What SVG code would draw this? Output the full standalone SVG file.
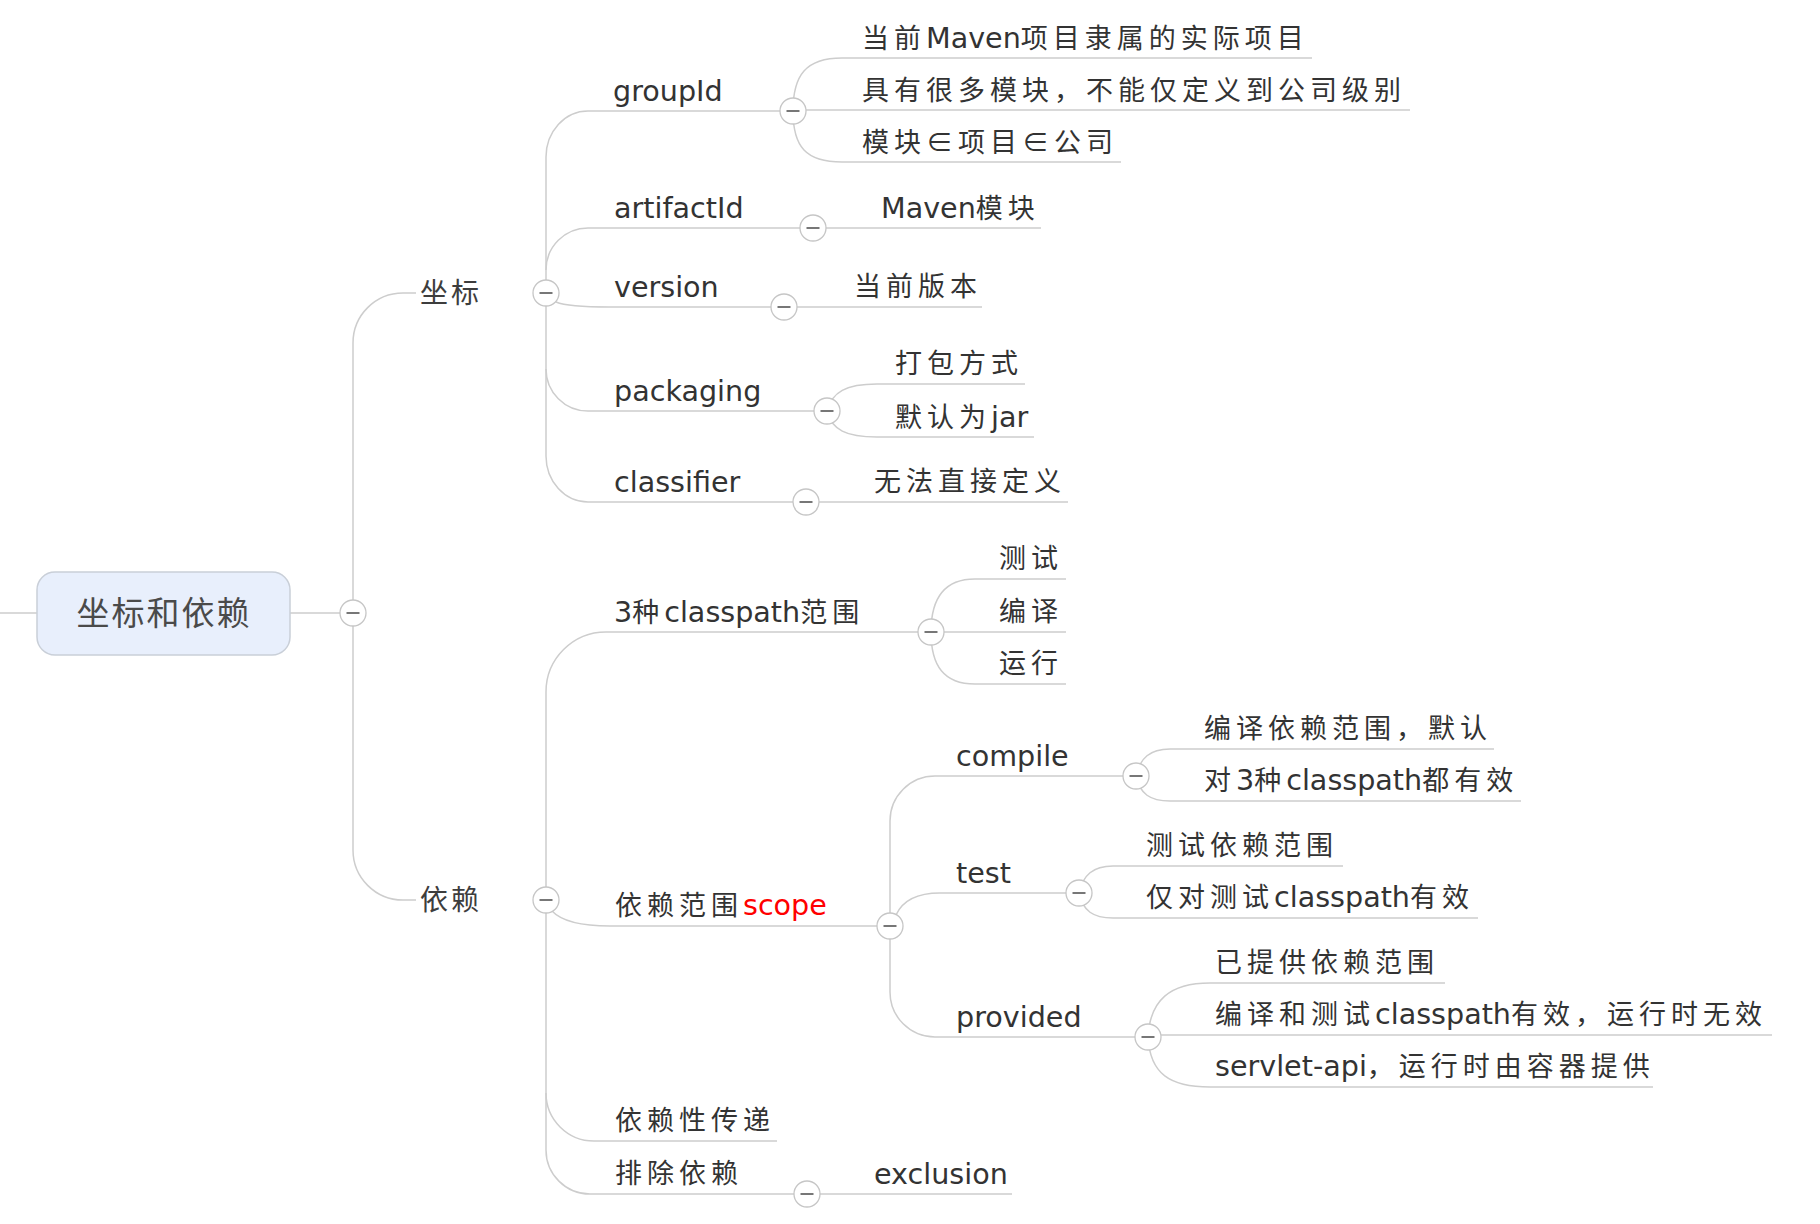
<svg xmlns="http://www.w3.org/2000/svg" xmlns:xlink="http://www.w3.org/1999/xlink" width="1820" height="1224" viewBox="0 0 1820 1224">
<style>
.ln{fill:none;stroke:#cdcdcd;stroke-width:1.5}
.t{font-family:"DejaVu Sans","Noto Sans CJK SC",sans-serif;font-size:27px;fill:#333;letter-spacing:5px}
.n{letter-spacing:0;font-size:28.6px}
.e{font-family:"Noto Sans CJK SC",sans-serif}
.t1{font-family:"Noto Sans CJK SC",sans-serif;font-size:28px;fill:#3d3d3d;letter-spacing:3px}
.root{font-family:"Noto Sans CJK SC",sans-serif;font-size:33px;fill:#4a4a4a;letter-spacing:2px}
.red{fill:#ff0000}
</style>
<defs>
<g id="tog"><circle r="13" fill="#fff" stroke="#c6c6c6" stroke-width="1.3"/><path d="M-6.5 0H6.5" stroke="#555" stroke-width="1.6"/></g>
</defs>
<rect width="1820" height="1224" fill="#fff"/>
<g id="connectors">
<path class="ln" d="M0 613H37M290 613H340"/>
<path class="ln" d="M353 600V343A50 50 0 0 1 403 293H416"/>
<path class="ln" d="M353 626V850A50 50 0 0 0 403 900H416"/>
<path class="ln" d="M780 111H588A42 46 0 0 0 546 157V456A42 46 0 0 0 588 502H793"/>
<path class="ln" d="M546 270A42 42 0 0 1 588 228H800"/>
<path class="ln" d="M556 302Q568 307 609 307H771"/>
<path class="ln" d="M546 369A42 42 0 0 0 588 411H814"/>
<path class="ln" d="M793 111C793 75 806 58 842 58H1312"/>
<path class="ln" d="M806 110H1410"/>
<path class="ln" d="M793 111C793 147 806 162 842 162H1121"/>
<path class="ln" d="M826 228H1041"/>
<path class="ln" d="M797 307H982"/>
<path class="ln" d="M827 411C832 392 846 384 877 384H1025"/>
<path class="ln" d="M827 411C832 430 846 437 877 437H1034"/>
<path class="ln" d="M819 502H1068"/>
<path class="ln" d="M918 632H606A60 60 0 0 0 546 692V1150A44 44 0 0 0 590 1194H794"/>
<path class="ln" d="M552 911Q566 926 610 926H877"/>
<path class="ln" d="M546 1093A48 48 0 0 0 594 1141H777"/>
<path class="ln" d="M820 1194H1012"/>
<path class="ln" d="M931 632C931 598 944 579 975 579H1066"/>
<path class="ln" d="M944 632H1066"/>
<path class="ln" d="M931 632C931 666 944 684 975 684H1066"/>
<path class="ln" d="M1123 776H935A45 45 0 0 0 890 821V992A45 45 0 0 0 935 1037H1135"/>
<path class="ln" d="M896 915Q906 893 940 893H1066"/>
<path class="ln" d="M1136 776C1140 758 1150 749 1170 749H1494"/>
<path class="ln" d="M1136 776C1140 794 1150 801 1170 801H1521"/>
<path class="ln" d="M1079 893C1083 875 1093 866 1113 866H1343"/>
<path class="ln" d="M1079 893C1083 911 1093 918 1113 918H1478"/>
<path class="ln" d="M1148 1037C1150 1000 1170 983 1210 983H1445"/>
<path class="ln" d="M1161 1035H1772"/>
<path class="ln" d="M1148 1037C1150 1074 1170 1087 1210 1087H1653"/>
</g>
<g id="node-root">
<rect x="37" y="572" width="253" height="83" rx="18" fill="#e8effc" stroke="#c9cfd8" stroke-width="1.5"/>
<text class="root" x="164" y="625" text-anchor="middle">坐标和依赖</text>
<use xlink:href="#tog" x="353" y="613"/>
</g>
<g id="node-zuobiao"><text class="t1" x="420" y="303">坐标</text><use xlink:href="#tog" x="546" y="293"/></g>
<g id="node-yilai"><text class="t1" x="420" y="910">依赖</text><use xlink:href="#tog" x="546" y="900"/></g>
<g id="node-groupId"><text class="t n" x="613" y="101">groupId</text><use xlink:href="#tog" x="793" y="111"/></g>
<g id="node-g1"><text class="t" x="862" y="48">当前<tspan class="n">Maven</tspan>项目隶属的实际项目</text></g>
<g id="node-g2"><text class="t" x="862" y="100">具有很多模块，不能仅定义到公司级别</text></g>
<g id="node-g3"><text class="t" x="862" y="152">模块<tspan class="e">∈</tspan>项目<tspan class="e">∈</tspan>公司</text></g>
<g id="node-artifactId"><text class="t n" x="614" y="218">artifactId</text><use xlink:href="#tog" x="813" y="228"/></g>
<g id="node-a1"><text class="t" x="881" y="218"><tspan class="n">Maven</tspan>模块</text></g>
<g id="node-version"><text class="t n" x="614" y="297">version</text><use xlink:href="#tog" x="784" y="307"/></g>
<g id="node-v1"><text class="t" x="854" y="296">当前版本</text></g>
<g id="node-packaging"><text class="t n" x="614" y="401">packaging</text><use xlink:href="#tog" x="827" y="411"/></g>
<g id="node-p1"><text class="t" x="895" y="373">打包方式</text></g>
<g id="node-p2"><text class="t" x="895" y="427">默认为<tspan class="n">jar</tspan></text></g>
<g id="node-classifier"><text class="t n" x="614" y="492">classifier</text><use xlink:href="#tog" x="806" y="502"/></g>
<g id="node-c1"><text class="t" x="874" y="491">无法直接定义</text></g>
<g id="node-cp"><text class="t" x="614" y="622"><tspan class="n">3</tspan>种<tspan class="n">classpath</tspan>范围</text><use xlink:href="#tog" x="931" y="632"/></g>
<g id="node-cp1"><text class="t" x="999" y="568">测试</text></g>
<g id="node-cp2"><text class="t" x="999" y="621">编译</text></g>
<g id="node-cp3"><text class="t" x="999" y="673">运行</text></g>
<g id="node-scope"><text class="t" x="615" y="915">依赖范围<tspan class="n red">scope</tspan></text><use xlink:href="#tog" x="890" y="926"/></g>
<g id="node-compile"><text class="t n" x="956" y="766">compile</text><use xlink:href="#tog" x="1136" y="776"/></g>
<g id="node-co1"><text class="t" x="1204" y="738">编译依赖范围，默认</text></g>
<g id="node-co2"><text class="t" x="1204" y="790">对<tspan class="n">3</tspan>种<tspan class="n">classpath</tspan>都有效</text></g>
<g id="node-test"><text class="t n" x="956" y="883">test</text><use xlink:href="#tog" x="1079" y="893"/></g>
<g id="node-te1"><text class="t" x="1146" y="855">测试依赖范围</text></g>
<g id="node-te2"><text class="t" x="1146" y="907">仅对测试<tspan class="n">classpath</tspan>有效</text></g>
<g id="node-provided"><text class="t n" x="956" y="1027">provided</text><use xlink:href="#tog" x="1148" y="1037"/></g>
<g id="node-pr1"><text class="t" x="1215" y="972">已提供依赖范围</text></g>
<g id="node-pr2"><text class="t" x="1215" y="1024">编译和测试<tspan class="n">classpath</tspan>有效，运行时无效</text></g>
<g id="node-pr3"><text class="t" x="1215" y="1076"><tspan class="n">servlet-api</tspan>，运行时由容器提供</text></g>
<g id="node-chuandi"><text class="t" x="615" y="1130">依赖性传递</text></g>
<g id="node-paichu"><text class="t" x="615" y="1183">排除依赖</text><use xlink:href="#tog" x="807" y="1194"/></g>
<g id="node-exclusion"><text class="t n" x="874" y="1184">exclusion</text></g>
</svg>
